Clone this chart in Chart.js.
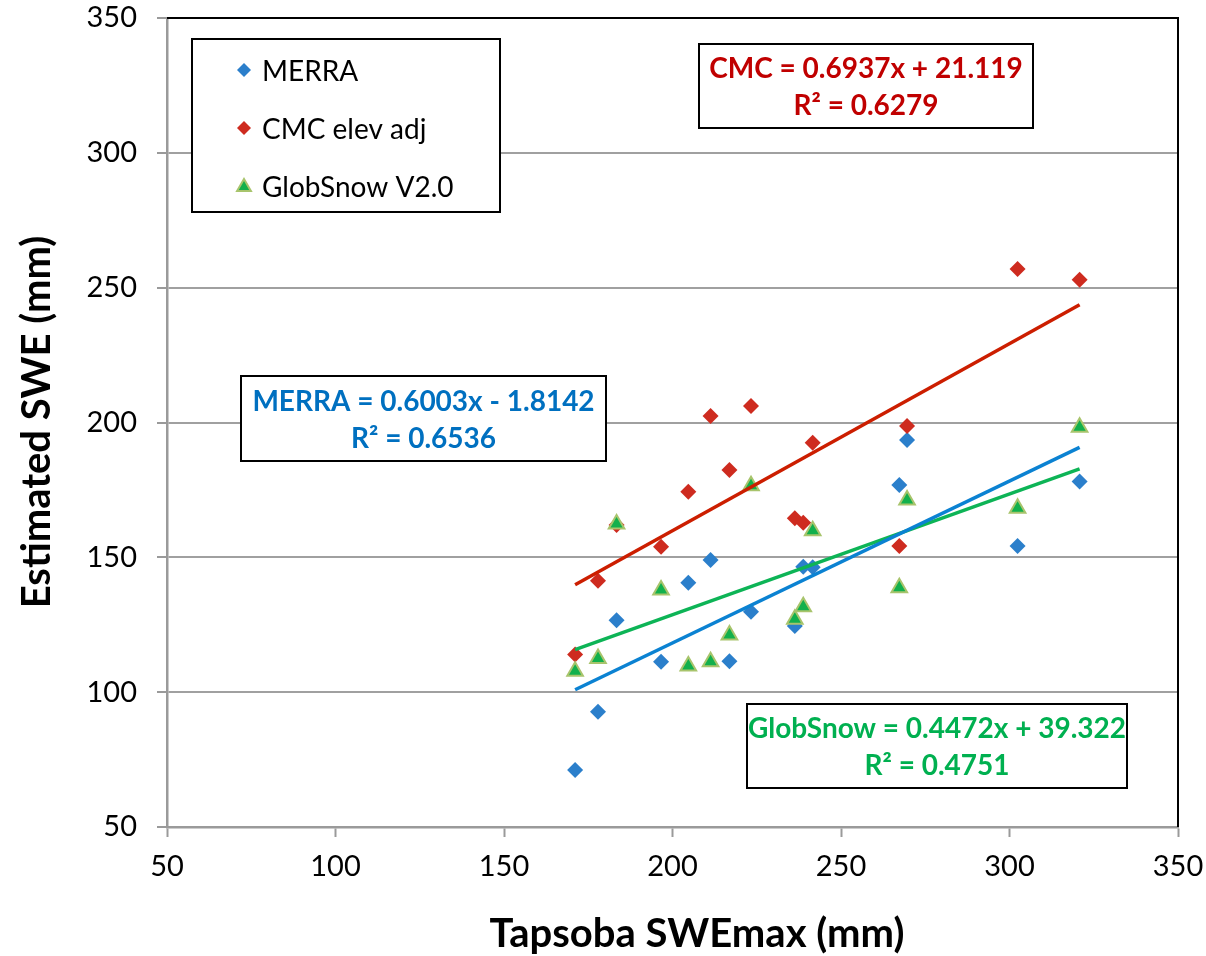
<!DOCTYPE html>
<html>
<head>
<meta charset="utf-8">
<title>Estimated SWE vs Tapsoba SWEmax</title>
<script src="https://cdn.jsdelivr.net/npm/chart.js@4.4.1/dist/chart.umd.min.js"></script>
<style>
    html, body { margin: 0; padding: 0; background: #fff; }
    #wrap { width: 1206px; height: 956px; }
</style>
</head>
<body>
<div id="wrap"><canvas id="sweChart" width="1206" height="956"></canvas></div>
<script>
// 図から読み取ったデータ
const tapsobaSWEmax = [171.1, 177.9, 183.4, 196.6, 204.7, 211.3, 216.9, 223.3, 236.3, 238.8, 241.6, 267.3, 269.6, 302.4, 320.8];
const merraSWE      = [71.1, 92.7, 126.7, 111.3, 140.6, 149.0, 111.5, 129.8, 124.5, 146.5, 146.3, 176.8, 193.5, 154.2, 178.1];
const cmcSWE        = [114.0, 141.3, 162.0, 153.9, 174.3, 202.4, 182.4, 206.1, 164.5, 162.8, 192.5, 154.2, 198.7, 256.9, 252.9];
const globSnowSWE   = [107.8, 112.5, 162.4, 137.9, 109.7, 111.3, 121.2, 176.5, 127.0, 131.7, 159.9, 138.7, 171.3, 168.2, 198.2];

// 近似直線の両端
const trendX        = [171.1, 320.8];
const merraTrend    = [100.9, 190.8];
const cmcTrend      = [139.8, 243.7];
const globSnowTrend = [115.8, 182.8];

// 目盛り
const xTicks = [50, 100, 150, 200, 250, 300, 350];
const yTicks = [50, 100, 150, 200, 250, 300, 350];

// 凡例と注記
const seriesNames = ['MERRA', 'CMC elev adj', 'GlobSnow V2.0'];
const merraLabel    = ['MERRA = 0.6003x - 1.8142', 'R² = 0.6536'];
const cmcLabel      = ['CMC = 0.6937x + 21.119', 'R² = 0.6279'];
const globSnowLabel = ['GlobSnow = 0.4472x + 39.322', 'R² = 0.4751'];

const FONT = 'Lato, "Open Sans", sans-serif';
const COLORS = {
    merra: '#2B7FCB',
    cmc: '#CE2B1F',
    globFill: '#12B04C',
    globEdge: '#A8C46C',
    merraLine: '#0B82D2',
    cmcLine: '#CC1E00',
    globLine: '#0DB456'
};

const toPoints = (xs, ys) => xs.map((x, i) => ({ x: x, y: ys[i] }));

// 凡例・注記・軸タイトルの描画
const overlayPlugin = {
    id: 'overlay',
    beforeDatasetsDraw(chart) {
        const { ctx, chartArea } = chart;
        // プロットエリアの上と右の黒い枠線
        ctx.save();
        ctx.strokeStyle = '#000';
        ctx.lineWidth = 2;
        ctx.beginPath();
        ctx.moveTo(chartArea.left, chartArea.top);
        ctx.lineTo(chartArea.right, chartArea.top);
        ctx.lineTo(chartArea.right, chartArea.bottom);
        ctx.stroke();
        ctx.restore();
    },
    afterDatasetsDraw(chart) {
        const ctx = chart.ctx;
        ctx.save();

        // 凡例ボックス
        drawBox(ctx, 192, 39, 500, 212);
        const legendStyles = [
            { pointStyle: 'rectRot', radius: 7, fill: COLORS.merra, edge: COLORS.merra, bw: 0 },
            { pointStyle: 'rectRot', radius: 7, fill: COLORS.cmc, edge: COLORS.cmc, bw: 0 },
            { pointStyle: 'triangle', radius: 8, fill: COLORS.globFill, edge: COLORS.globEdge, bw: 2 }
        ];
        const rowY = [70, 128, 186];
        seriesNames.forEach((name, i) => {
            const st = legendStyles[i];
            ctx.fillStyle = st.fill;
            ctx.strokeStyle = st.edge;
            ctx.lineWidth = st.bw;
            Chart.helpers.drawPoint(ctx, { pointStyle: st.pointStyle, radius: st.radius, rotation: 0, borderWidth: st.bw }, 244, rowY[i] + (i === 2 ? 1 : 0));
            ctx.fillStyle = '#000';
            ctx.font = '28px ' + FONT;
            ctx.textAlign = 'left';
            ctx.textBaseline = 'middle';
            ctx.fillText(name, 262, rowY[i] + 2);
        });

        // 近似式の注記
        drawNote(ctx, cmcLabel, '#C00000', 699, 44, 1033, 128);
        drawNote(ctx, merraLabel, '#0070C0', 241, 376, 606, 461);
        drawNote(ctx, globSnowLabel, '#00B050', 747, 704, 1127, 788);

        // 軸タイトル
        ctx.fillStyle = '#000';
        ctx.font = 'bold 40px ' + FONT;
        ctx.textAlign = 'center';
        ctx.textBaseline = 'middle';
        ctx.fillText('Tapsoba SWEmax (mm)', 697, 934);
        ctx.translate(37, 422);
        ctx.rotate(-Math.PI / 2);
        ctx.fillText('Estimated SWE (mm)', 0, 0);

        ctx.restore();
    }
};

function drawBox(ctx, x1, y1, x2, y2) {
    ctx.fillStyle = '#fff';
    ctx.fillRect(x1, y1, x2 - x1, y2 - y1);
    ctx.strokeStyle = '#000';
    ctx.lineWidth = 2;
    ctx.strokeRect(x1, y1, x2 - x1, y2 - y1);
}

function drawNote(ctx, lines, color, x1, y1, x2, y2) {
    drawBox(ctx, x1, y1, x2, y2);
    const cx = (x1 + x2) / 2;
    const cy = (y1 + y2) / 2;
    ctx.fillStyle = color;
    ctx.font = 'bold 28px ' + FONT;
    ctx.textAlign = 'center';
    ctx.textBaseline = 'middle';
    ctx.fillText(lines[0], cx, cy - 17);
    ctx.fillText(lines[1], cx, cy + 20);
}

function createChart() {
    const ctx = document.getElementById('sweChart').getContext('2d');

    return new Chart(ctx, {
        type: 'scatter',
        data: {
            datasets: [{
                label: 'MERRA trend',
                type: 'line',
                data: toPoints(trendX, merraTrend),
                borderColor: COLORS.merraLine,
                borderWidth: 3.5,
                pointRadius: 0,
                fill: false,
                order: 1
            }, {
                label: 'CMC trend',
                type: 'line',
                data: toPoints(trendX, cmcTrend),
                borderColor: COLORS.cmcLine,
                borderWidth: 3.5,
                pointRadius: 0,
                fill: false,
                order: 1
            }, {
                label: 'GlobSnow trend',
                type: 'line',
                data: toPoints(trendX, globSnowTrend),
                borderColor: COLORS.globLine,
                borderWidth: 3.5,
                pointRadius: 0,
                fill: false,
                order: 1
            }, {
                label: seriesNames[2],
                data: toPoints(tapsobaSWEmax, globSnowSWE),
                pointStyle: 'triangle',
                pointRadius: 9,
                backgroundColor: COLORS.globFill,
                borderColor: COLORS.globEdge,
                borderWidth: 2,
                order: 2
            }, {
                label: seriesNames[1],
                data: toPoints(tapsobaSWEmax, cmcSWE),
                pointStyle: 'rectRot',
                pointRadius: 8,
                backgroundColor: COLORS.cmc,
                borderColor: COLORS.cmc,
                borderWidth: 0,
                order: 3
            }, {
                label: seriesNames[0],
                data: toPoints(tapsobaSWEmax, merraSWE),
                pointStyle: 'rectRot',
                pointRadius: 8,
                backgroundColor: COLORS.merra,
                borderColor: COLORS.merra,
                borderWidth: 0,
                order: 4
            }]
        },
        options: {
            responsive: false,
            animation: false,
            layout: { padding: { top: 18, right: 28, bottom: 0, left: 0 } },
            plugins: {
                legend: { display: false },
                tooltip: { enabled: false }
            },
            scales: {
                x: {
                    type: 'linear',
                    min: 50,
                    max: 350,
                    afterBuildTicks: scale => { scale.ticks = xTicks.map(v => ({ value: v })); },
                    afterFit: scale => {
                        scale.height = 129;
                        scale.paddingLeft = 0;
                        scale.paddingRight = 0;
                    },
                    grid: {
                        drawOnChartArea: false,
                        drawTicks: true,
                        tickLength: 10,
                        tickColor: '#9A9A9A',
                        tickWidth: 2
                    },
                    border: { color: '#9A9A9A', width: 2.5 },
                    ticks: {
                        color: '#000',
                        padding: 12,
                        maxRotation: 0,
                        font: { family: FONT, size: 29 }
                    }
                },
                y: {
                    type: 'linear',
                    min: 50,
                    max: 350,
                    afterBuildTicks: scale => { scale.ticks = yTicks.map(v => ({ value: v })); },
                    afterFit: scale => {
                        scale.width = 167;
                        scale.paddingTop = 0;
                        scale.paddingBottom = 0;
                    },
                    grid: {
                        color: '#A0A0A0',
                        lineWidth: 2,
                        drawTicks: true,
                        tickLength: 10,
                        tickColor: '#9A9A9A'
                    },
                    border: { color: '#9A9A9A', width: 2.5 },
                    ticks: {
                        color: '#000',
                        padding: 20,
                        font: { family: FONT, size: 29 }
                    }
                }
            }
        },
        plugins: [overlayPlugin]
    });
}

document.addEventListener('DOMContentLoaded', () => {
    createChart();
});
</script>
</body>
</html>
